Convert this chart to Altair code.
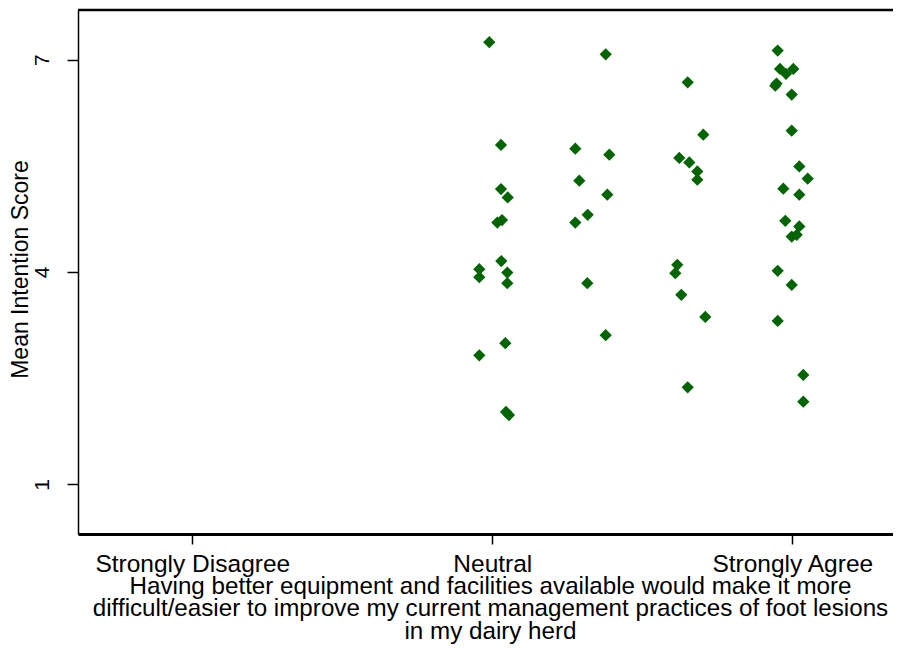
import altair as alt
import pandas as pd

# Jittered response position (1-7 Likert) and mean intention score, per response group
neutral_x = [3.970, 4.087, 4.087, 4.154, 4.050, 4.097, 4.090, 3.870, 3.870, 4.150, 4.150, 4.130, 3.870, 4.137, 4.167]
neutral_y = [7.245, 5.794, 5.172, 5.053, 4.699, 4.733, 4.154, 4.040, 3.927, 3.992, 3.842, 2.994, 2.824, 2.023, 1.980]

agree5_x = [5.134, 4.830, 5.170, 4.870, 5.150, 4.954, 4.830, 4.950, 5.134]
agree5_y = [7.075, 5.742, 5.657, 5.289, 5.091, 4.808, 4.699, 3.842, 3.107]

agree6_x = [5.954, 6.110, 5.870, 5.970, 6.050, 6.050, 5.850, 5.830, 5.890, 6.130, 5.954]
agree6_y = [6.679, 5.939, 5.610, 5.548, 5.421, 5.303, 4.101, 3.984, 3.677, 3.366, 2.372]

agree7_x = [6.854, 6.877, 6.937, 7.010, 6.830, 6.842, 6.994, 6.994, 7.070, 7.154, 6.910,
            7.070, 6.930, 7.070, 6.994, 7.044, 6.854, 6.994, 6.854, 7.110, 7.110]
agree7_y = [7.127, 6.868, 6.798, 6.868, 6.632, 6.661, 6.505, 5.996, 5.491, 5.317, 5.176,
            5.091, 4.723, 4.643, 4.501, 4.525, 4.016, 3.818, 3.309, 2.546, 2.168]

x_ticks = [1, 4, 7]
x_tick_labels = ["Strongly Disagree", "Neutral", "Strongly Agree"]
y_ticks = [1, 4, 7]
x_title = [
    "Having better equipment and facilities available would make it more",
    "difficult/easier to improve my current management practices of foot lesions",
    "in my dairy herd",
]
y_title = "Mean Intention Score"

df = pd.DataFrame({
    "response": neutral_x + agree5_x + agree6_x + agree7_x,
    "score": neutral_y + agree5_y + agree6_y + agree7_y,
})

label_expr = " : ".join(
    f"datum.value == {v} ? '{t}'" for v, t in zip(x_ticks, x_tick_labels)
) + " : ''"

FONT = "Liberation Sans"

points = alt.Chart(df).mark_point(
    shape="diamond", filled=True, size=150, color="#006400", opacity=1
).encode(
    x=alt.X(
        "response:Q",
        scale=alt.Scale(domain=[-0.143, 8.007], nice=False, zero=False),
        axis=alt.Axis(
            values=x_ticks, labelExpr=label_expr, grid=False,
            title=x_title, titleFont=FONT, titleFontSize=24.2, titleFontWeight="normal",
            titleColor="black", titleLineHeight=22.8, titleBaseline="alphabetic",
            titleX=412, titleY=59, titleAlign="center", titleAnchor="middle",
            titleLimit=2000,
            labelFont=FONT, labelFontSize=24.5, labelColor="black", labelPadding=8,
            labelBaseline="top", labelAlign="center", labelLimit=2000,
            tickSize=10, tickColor="black", tickWidth=1.5,
            domainColor="black", domainWidth=3, labelFlush=False, labelOverlap=False,
        ),
    ),
    y=alt.Y(
        "score:Q",
        scale=alt.Scale(domain=[0.3, 7.7], nice=False, zero=False),
        axis=alt.Axis(
            values=y_ticks, grid=False,
            title=y_title, titleFont=FONT, titleFontSize=23, titleFontWeight="normal",
            titleColor="black", titleAngle=270, titleBaseline="middle", titleAlign="center",
            titleX=-58, titleY=259,
            labelFont=FONT, labelFontSize=21, labelColor="black", labelAngle=270,
            labelAlign="center", labelBaseline="middle", labelPadding=25,
            tickSize=11, tickColor="black", tickWidth=1.5,
            domainColor="black", domainWidth=1.5,
        ),
    ),
)

top_border = alt.Chart(pd.DataFrame({"k": [0]})).mark_rule(
    color="black", strokeWidth=2.5
).encode(y=alt.value(0))

chart = alt.layer(points, top_border).properties(
    width=815, height=524,
    autosize=alt.AutoSizeParams(type="none"),
    padding={"left": 70, "top": 2, "right": 0, "bottom": 110},
).configure_view(stroke=None).configure(background="white")

chart.save("out.html", embed_options={"renderer": "svg", "actions": False})
